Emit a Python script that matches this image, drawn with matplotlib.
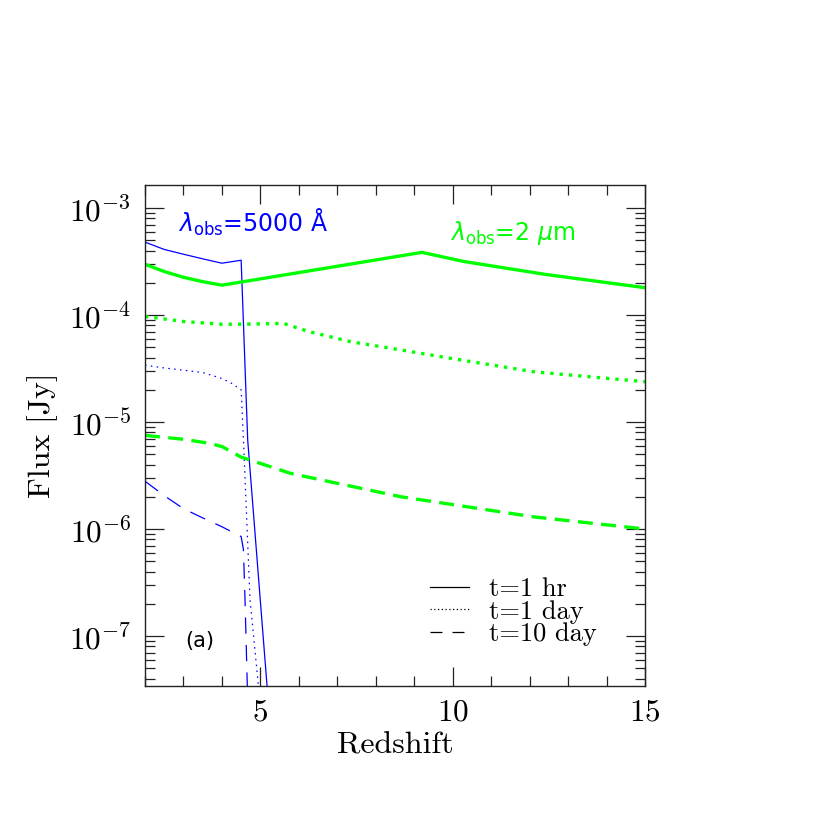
import numpy as np
import matplotlib
matplotlib.use("Agg")
import matplotlib.pyplot as plt
from matplotlib.lines import Line2D
from matplotlib.ticker import MultipleLocator, LogLocator, NullFormatter

plt.rcParams['font.family'] = ['cmr10', 'DejaVu Serif']
plt.rcParams['mathtext.fontset'] = 'cm'
plt.rcParams['axes.formatter.use_mathtext'] = True

# lambda_obs = 5000 A (blue)
z_b_hr = [2.0, 2.5, 3.0, 3.5, 4.0, 4.5, 4.67, 5.3]
f_b_hr = [4.8e-4, 4.1e-4, 3.7e-4, 3.35e-4, 3.05e-4, 3.25e-4, 6.8e-6, 9e-9]

z_b_day = [2.0, 2.5, 3.0, 3.5, 4.0, 4.25, 4.5, 4.56, 4.73, 4.95, 5.1]
f_b_day = [3.4e-5, 3.2e-5, 3.05e-5, 2.9e-5, 2.55e-5, 2.3e-5, 2.0e-5, 6.8e-6, 2.2e-7, 3.4e-8, 9e-9]

z_b_10d = [2.0, 2.5, 3.0, 3.5, 4.0, 4.5, 4.56, 4.6, 4.66, 4.75]
f_b_10d = [2.8e-6, 2.05e-6, 1.55e-6, 1.27e-6, 1.05e-6, 8.5e-7, 6.4e-7, 2.2e-7, 3.4e-8, 6e-9]

# lambda_obs = 2 micron (green)
z_g_hr = [2.0, 2.5, 3.0, 3.5, 4.0, 9.2, 10.3, 12.4, 15.0]
f_g_hr = [2.98e-4, 2.55e-4, 2.25e-4, 2.05e-4, 1.9e-4, 3.85e-4, 3.16e-4, 2.4e-4, 1.8e-4]

z_g_day = [2.0, 3.0, 4.0, 4.5, 5.6, 6.0, 6.33, 7.36, 8.66, 9.87, 12.1, 15.0]
f_g_day = [9.7e-5, 8.7e-5, 8.2e-5, 8.2e-5, 8.35e-5, 7.5e-5, 6.9e-5, 5.62e-5, 4.71e-5, 3.98e-5, 2.95e-5, 2.38e-5]

z_g_10d = [2.0, 3.0, 3.7, 4.0, 4.5, 5.8, 8.66, 12.1, 15.0]
f_g_10d = [7.5e-6, 6.9e-6, 6.3e-6, 5.9e-6, 4.7e-6, 3.3e-6, 2.0e-6, 1.3e-6, 1.0e-6]

legend_labels = ['t=1 hr', 't=1 day', 't=10 day']

blue = '#0000ff'
green = '#00ff00'

fig = plt.figure(figsize=(8.3, 8.3), dpi=100)
ax = fig.add_axes([0.1747, 0.1735, 0.6024, 0.6036])

ax.plot(z_b_hr, f_b_hr, color=blue, lw=0.9)
ax.plot(z_b_day, f_b_day, color=blue, lw=0.9, dashes=(1.2, 3.5))
ax.plot(z_b_10d, f_b_10d, color=blue, lw=0.9, dashes=(13, 9))

ax.plot(z_g_hr, f_g_hr, color=green, lw=2.4)
ax.plot(z_g_day, f_g_day, color=green, lw=2.4, dashes=(1.0, 1.8))
ax.plot(z_g_10d, f_g_10d, color=green, lw=2.4, dashes=(4.5, 2.5))

ax.set_yscale('log')
ax.set_xlim(2, 15)
ax.set_ylim(10**-7.467, 10**-2.785)

ax.xaxis.set_major_locator(MultipleLocator(5))
ax.xaxis.set_minor_locator(MultipleLocator(1))
ax.yaxis.set_major_locator(LogLocator(base=10, numticks=20))
ax.yaxis.set_minor_locator(LogLocator(base=10, subs=np.arange(2, 10), numticks=20))
ax.yaxis.set_minor_formatter(NullFormatter())

ax.tick_params(which='both', direction='in', top=True, right=True, width=0.9, color='#222222')
ax.tick_params(which='major', length=14, labelsize=22.5)
ax.tick_params(which='minor', length=7)
ax.tick_params(axis='y', which='major', pad=10)
ax.tick_params(axis='x', which='major', pad=9)
for s in ax.spines.values():
    s.set_linewidth(1.0)
    s.set_color('#222222')

ax.set_xlabel('Redshift', fontsize=23, labelpad=4)
ax.set_ylabel('Flux [Jy]', fontsize=23, labelpad=8)

ax.text(0.066, 0.907, r'$\lambda_{\rm obs}$=5000 Å', transform=ax.transAxes,
        color=blue, fontsize=17, family='DejaVu Sans', math_fontfamily='dejavusans')
ax.text(0.61, 0.89, r'$\lambda_{\rm obs}$=2 $\mu$m', transform=ax.transAxes,
        color=green, fontsize=17, family='DejaVu Sans', math_fontfamily='dejavusans')
ax.text(0.08, 0.078, '(a)', transform=ax.transAxes, fontsize=15, family='DejaVu Sans')

handles = [Line2D([], [], color='k', lw=0.9),
           Line2D([], [], color='k', lw=0.9, dashes=(1, 2)),
           Line2D([], [], color='k', lw=0.9, dashes=(9.6, 8))]
ax.legend(handles, legend_labels, loc='upper left', bbox_to_anchor=(0.57, 0.2166),
          frameon=False, fontsize=19, handlelength=1.48, handletextpad=0.76,
          labelspacing=-0.05, borderpad=0, borderaxespad=0)

fig.savefig('out.png', dpi=100)
